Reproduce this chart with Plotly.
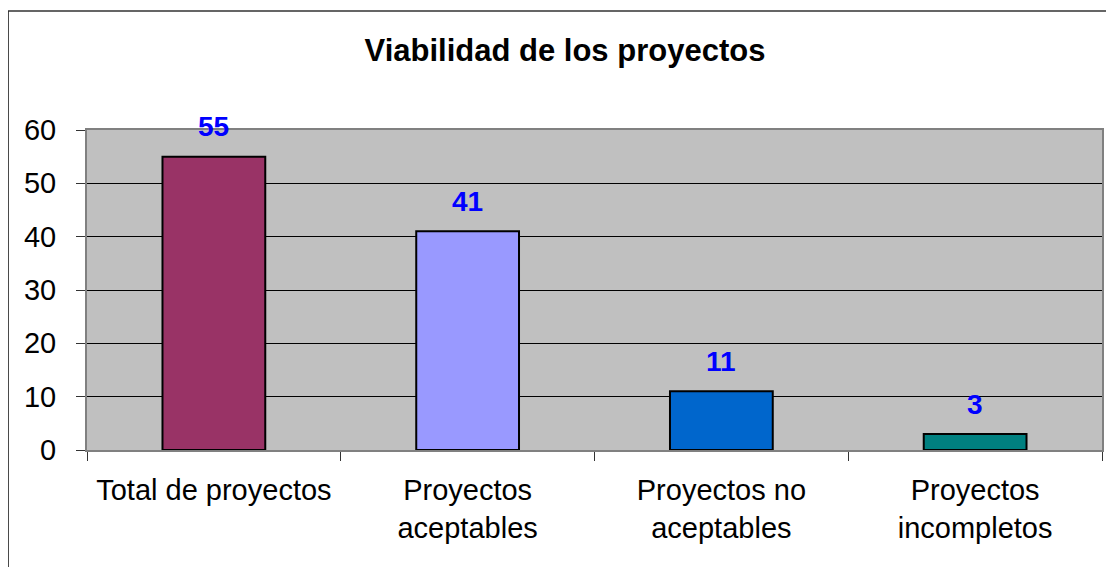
import plotly.graph_objects as go

categorias = ["Total de proyectos", "Proyectos<br>aceptables",
              "Proyectos no<br>aceptables", "Proyectos<br>incompletos"]
valores = [55, 41, 11, 3]
colores = ["#993366", "#9999FF", "#0066CC", "#008080"]
y_ticks = [0, 10, 20, 30, 40, 50, 60]

FONT = "Liberation Sans, Arial, sans-serif"

fig = go.Figure()
fig.add_trace(go.Bar(
    x=categorias, y=valores,
    marker=dict(color=colores, line=dict(color="black", width=2)),
    hoverinfo="x+y", showlegend=False,
))

# etiquetas de datos encima de cada barra
for cat, val in zip(categorias, valores):
    fig.add_annotation(
        x=cat, y=val, text=f"<b>{val}</b>", showarrow=False,
        yanchor="middle", yshift=30,
        font=dict(family=FONT, size=28, color="#0000FF"),
    )

# marco exterior del gráfico
fig.add_shape(
    type="rect", xref="paper", yref="paper",
    x0=-0.0777, x1=1.05, y0=-0.5, y1=1.372,
    line=dict(color="#333333", width=1.5), layer="below",
)

# la página tiene 8 px de margen, de ahí 1106x559
fig.update_layout(
    width=1106, height=559, autosize=False,
    margin=dict(l=79, r=10, t=122, b=117),
    paper_bgcolor="white", plot_bgcolor="#C0C0C0",
    bargap=0.595,
    title=dict(
        text="<b>Viabilidad de los proyectos</b>",
        x=0.5036, xanchor="center", y=0.925, yanchor="middle",
        font=dict(family=FONT, size=31, color="black"),
    ),
    font=dict(family=FONT, size=29, color="black"),
)
fig.update_xaxes(
    tickson="boundaries", ticks="outside", ticklen=9, tickcolor="#333333",
    showline=True, linecolor="#808080", linewidth=2, mirror=True,
    showgrid=False, ticklabelstandoff=13,
    tickfont=dict(family=FONT, size=29, color="black"),
)
fig.update_yaxes(
    range=[0, 60], tickvals=y_ticks, ticks="outside", ticklen=9,
    tickcolor="#333333", showline=True, linecolor="#808080", linewidth=2,
    mirror=True, showgrid=True, gridcolor="black", gridwidth=1,
    zeroline=False, ticklabelstandoff=14,
    tickfont=dict(family=FONT, size=29, color="black"),
)

fig.write_html("out.html")
